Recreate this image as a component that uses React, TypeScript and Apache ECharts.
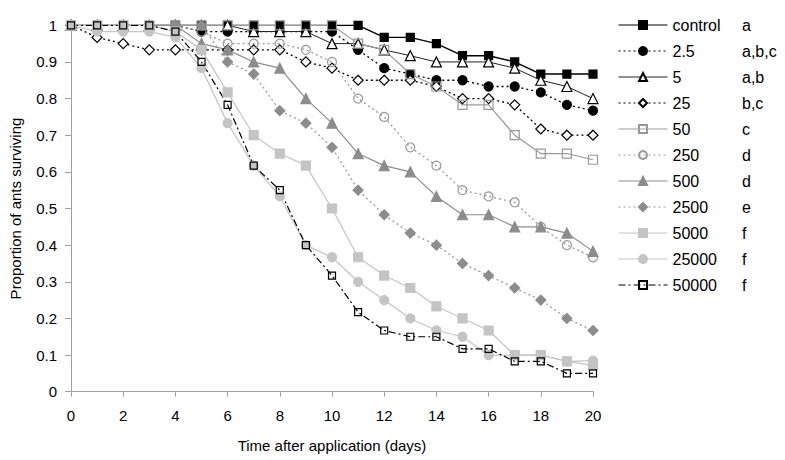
import React, { useEffect, useRef } from "react";
import * as echarts from "echarts";

const days = [0, 1, 2, 3, 4, 5, 6, 7, 8, 9, 10, 11, 12, 13, 14, 15, 16, 17, 18, 19, 20];

const seriesNames = ["control", "2.5", "5", "25", "50", "250", "500", "2500", "5000", "25000", "50000"];
const groupLetters = ["a", "a,b,c", "a,b", "b,c", "c", "d", "d", "e", "f", "f", "f"];

const control = [1, 1, 1, 1, 1, 1, 1, 1, 1, 1, 1, 1, 0.967, 0.967, 0.95, 0.917, 0.917, 0.9, 0.867, 0.867, 0.867];
const c2_5 = [1, 1, 1, 1, 1, 0.983, 0.983, 0.983, 0.983, 0.983, 0.983, 0.933, 0.883, 0.867, 0.85, 0.85, 0.833, 0.833, 0.817, 0.783, 0.767];
const c5 = [1, 1, 1, 1, 1, 1, 1, 0.983, 0.983, 0.983, 0.95, 0.95, 0.933, 0.917, 0.9, 0.9, 0.9, 0.883, 0.85, 0.833, 0.8];
const c25 = [1, 0.967, 0.95, 0.933, 0.933, 0.933, 0.933, 0.933, 0.933, 0.9, 0.883, 0.85, 0.85, 0.85, 0.833, 0.8, 0.8, 0.783, 0.717, 0.7, 0.7];
const c50 = [1, 1, 1, 1, 1, 1, 1, 1, 1, 1, 1, 0.95, 0.933, 0.867, 0.833, 0.783, 0.783, 0.7, 0.65, 0.65, 0.633];
const c250 = [1, 1, 1, 1, 1, 0.983, 0.95, 0.95, 0.95, 0.933, 0.9, 0.8, 0.75, 0.667, 0.617, 0.55, 0.533, 0.517, 0.45, 0.4, 0.367];
const c500 = [1, 1, 1, 1, 1, 0.95, 0.933, 0.9, 0.883, 0.8, 0.733, 0.65, 0.617, 0.6, 0.533, 0.483, 0.483, 0.45, 0.45, 0.433, 0.383];
const c2500 = [1, 1, 1, 1, 1, 1, 0.9, 0.867, 0.767, 0.733, 0.667, 0.55, 0.483, 0.433, 0.4, 0.35, 0.317, 0.283, 0.25, 0.2, 0.167];
const c5000 = [1, 1, 1, 1, 0.983, 0.933, 0.817, 0.7, 0.65, 0.617, 0.5, 0.367, 0.317, 0.283, 0.233, 0.2, 0.167, 0.1, 0.1, 0.083, 0.072];
const c25000 = [1, 0.983, 0.983, 0.983, 0.967, 0.883, 0.733, 0.617, 0.533, 0.4, 0.367, 0.3, 0.25, 0.2, 0.167, 0.15, 0.1, 0.1, 0.1, 0.083, 0.085];
const c50000 = [1, 1, 1, 1, 0.983, 0.9, 0.783, 0.617, 0.55, 0.4, 0.317, 0.217, 0.167, 0.15, 0.15, 0.117, 0.117, 0.083, 0.083, 0.05, 0.05];

const seriesValues = [control, c2_5, c5, c25, c50, c250, c500, c2500, c5000, c25000, c50000];

const FONT = "'Liberation Sans', Arial, Helvetica, sans-serif";
const DOT = [2, 3];
const DASHDOT = [7, 3, 2, 3];
const CLEAR = "rgba(255,255,255,0)";

const styles = [
  { symbol: "rect", size: 8, fill: "#000", border: "#000", line: "#000", type: "solid", width: 1.4 },
  { symbol: "circle", size: 9, fill: "#000", border: "#000", line: "#000", type: DOT, width: 1.3 },
  { symbol: "triangle", size: 10, fill: "#fff", border: "#000", line: "#222", type: "solid", width: 1 },
  { symbol: "diamond", size: 10, fill: "#fff", border: "#000", line: "#000", type: DOT, width: 1.3 },
  { symbol: "rect", size: 9, fill: CLEAR, border: "#999", line: "#9a9a9a", type: "solid", width: 1.2 },
  { symbol: "circle", size: 9, fill: CLEAR, border: "#999", line: "#9a9a9a", type: DOT, width: 1.3 },
  { symbol: "triangle", size: 10, fill: "#8c8c8c", border: "#8c8c8c", line: "#8c8c8c", type: "solid", width: 1.2 },
  { symbol: "diamond", size: 10, fill: "#8c8c8c", border: "#8c8c8c", line: "#9a9a9a", type: DOT, width: 1.3 },
  { symbol: "rect", size: 9, fill: "#c4c4c4", border: "#c4c4c4", line: "#c4c4c4", type: "solid", width: 1.2 },
  { symbol: "circle", size: 9, fill: "#c4c4c4", border: "#c4c4c4", line: "#c4c4c4", type: "solid", width: 1.2 },
  { symbol: "rect", size: 7, fill: CLEAR, border: "#000", line: "#000", type: DASHDOT, width: 1.2 },
];

export default function App() {
  const ref = useRef<HTMLDivElement>(null);

  useEffect(() => {
    if (!ref.current) return;
    const chart = echarts.init(ref.current, undefined, { renderer: "svg" });

    const series = seriesNames.map((name, i) => {
      const s = styles[i];
      return {
        name,
        type: "line",
        data: days.map((d, j) => [d, seriesValues[i][j]]),
        symbol: s.symbol,
        symbolSize: s.size,
        showAllSymbol: true,
        itemStyle: { color: s.fill, borderColor: s.border, borderWidth: 1.2, opacity: 1 },
        lineStyle: { color: s.line, type: s.type, width: s.width },
        emphasis: { disabled: true },
        z: 2,
      };
    });

    const rowTop = 17;
    const rowStep = 26;

    chart.setOption({
      animation: false,
      backgroundColor: "#fff",
      textStyle: { fontFamily: FONT },
      grid: { left: 69, right: 192, top: 25.3, bottom: 68.3, containLabel: false },
      xAxis: {
        type: "value",
        min: 0,
        max: 20,
        interval: 2,
        name: "Time after application (days)",
        nameLocation: "middle",
        nameGap: 46,
        nameTextStyle: { fontSize: 15, color: "#000", fontFamily: FONT, verticalAlign: "top" },
        axisLine: { show: true, onZero: false, lineStyle: { color: "#a0a0a0", width: 1 } },
        axisTick: { show: true, length: 5, inside: false, lineStyle: { color: "#a0a0a0" } },
        axisLabel: { fontSize: 15, color: "#000", margin: 16, fontFamily: FONT },
        splitLine: { show: false },
      },
      yAxis: {
        type: "value",
        min: 0,
        max: 1,
        interval: 0.1,
        name: "Proportion of ants surviving",
        nameLocation: "middle",
        nameGap: 48,
        nameRotate: 90,
        nameTextStyle: { fontSize: 15, color: "#000", fontFamily: FONT },
        axisLine: { show: true, lineStyle: { color: "#a0a0a0", width: 1 } },
        axisTick: { show: true, length: 6, inside: false, lineStyle: { color: "#a0a0a0" } },
        axisLabel: {
          fontSize: 15,
          color: "#000",
          margin: 14,
          fontFamily: FONT,
          formatter: (v: number) => String(Math.round(v * 10) / 10),
        },
        splitLine: { show: false },
      },
      legend: {
        orient: "vertical",
        left: 618,
        top: rowTop,
        padding: 0,
        itemWidth: 49,
        itemHeight: 10,
        itemGap: 10,
        selectedMode: false,
        data: seriesNames,
        lineStyle: { width: 1 },
        textStyle: { fontSize: 16, color: "#000", fontFamily: FONT },
      },
      graphic: groupLetters.map((t, i) => ({
        type: "text",
        x: 742,
        y: rowTop + 8 + i * rowStep,
        silent: true,
        style: {
          text: t,
          fill: "#000",
          fontSize: 16,
          fontFamily: FONT,
          verticalAlign: "middle",
          align: "left",
        },
      })),
      series,
    });

    return () => chart.dispose();
  }, []);

  return (
    <div
      ref={ref}
      style={{ position: "absolute", left: 0, top: 0, width: 785, height: 460, background: "#fff" }}
    />
  );
}
